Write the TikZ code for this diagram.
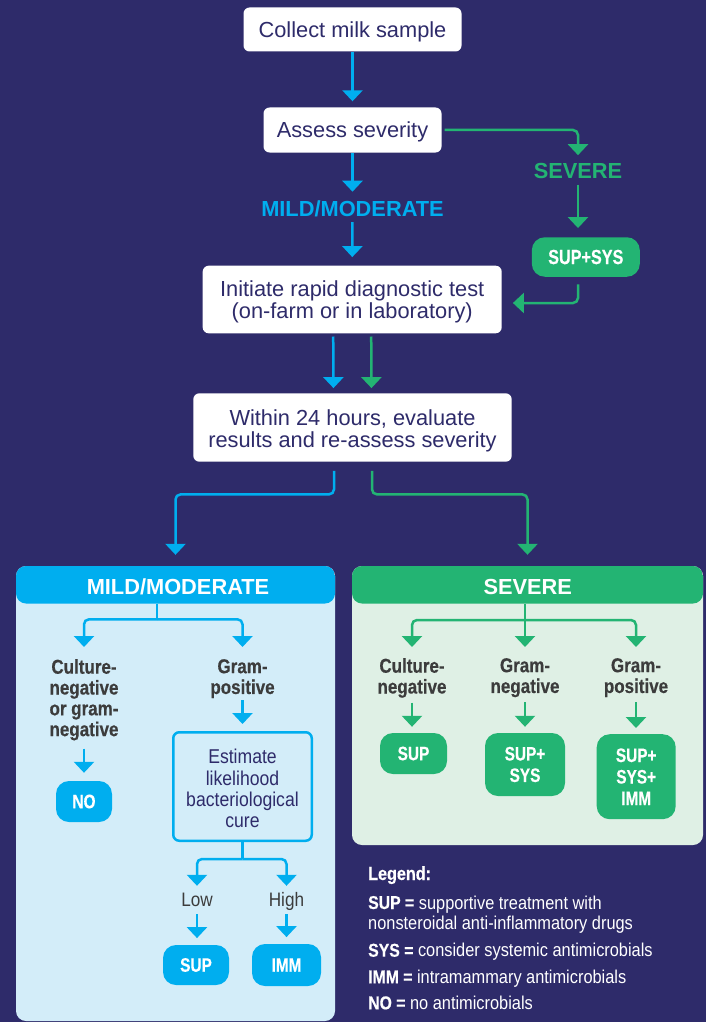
\documentclass[tikz,border=0pt]{standalone}
\usepackage{fontspec}
\setmainfont{Liberation Sans}
\newfontfamily\condr[FakeStretch=0.88]{Liberation Sans}
\newfontfamily\condl[FakeStretch=0.85,FakeBold=0.4]{Liberation Sans}
\newfontfamily\condb[FakeStretch=0.79,FakeBold=0.4]{Liberation Sans}
\usetikzlibrary{arrows.meta}
\definecolor{bgc}{RGB}{46,43,106}
\definecolor{cblue}{RGB}{0,174,239}
\definecolor{cgreen}{RGB}{35,180,115}
\definecolor{lblue}{RGB}{211,237,249}
\definecolor{lgreen}{RGB}{223,240,229}
\definecolor{navy}{RGB}{46,43,106}
\definecolor{dgray}{RGB}{60,60,60}
\tikzset{
 wbox/.style={fill=white, rounded corners=6pt, text=navy, align=center, inner sep=0pt, text depth=0pt, font=\fontsize{21.8}{22}\selectfont},
 pill/.style={rounded corners=13pt, text=white, align=center, inner sep=0pt, font=\condb\bfseries\fontsize{19.5}{21.5}\selectfont},
 pillb/.style={pill, fill=cblue},
 pillg/.style={pill, fill=cgreen},
 bline/.style={draw=cblue, line width=2.5pt},
 gline/.style={draw=cgreen, line width=2.5pt},
 barrow/.style={bline, -{Triangle[width=20pt,length=11pt]}},
 garrow/.style={gline, -{Triangle[width=20pt,length=11pt]}},
 biglbl/.style={inner sep=0pt, anchor=base, font=\bfseries\fontsize{21.8}{22}\selectfont},
 lbl/.style={inner sep=0pt, anchor=north, align=center, text=dgray, font=\condl\bfseries\fontsize{20}{20.8}\selectfont},
 rlbl/.style={inner sep=0pt, anchor=base, text=dgray, text height=14pt, text depth=4pt, font=\condr\fontsize{19.5}{21}\selectfont},
 leg/.style={inner sep=0pt, anchor=base west, text=white, font=\condr\fontsize{18.6}{20}\selectfont},
 legb/.style={font=\condl\bfseries\fontsize{19}{20}\selectfont},
}
\begin{document}
\begin{tikzpicture}[x=1pt,y=-1pt]
\fill[bgc] (0,0) rectangle (706,1022);
\useasboundingbox (0,0) rectangle (706,1022);

% top flow
\node[wbox, minimum width=218pt, minimum height=44pt] (collect) at (352.5,29.5) {Collect milk sample};
\node[wbox, minimum width=178pt, minimum height=45pt] (assess) at (352.5,130) {Assess severity};
\node[biglbl, text=cblue] (mildlbl) at (352.5,216) {MILD/MODERATE};
\node[biglbl, text=cgreen] (sevlbl) at (578,178.3) {SEVERE};
\node[pillg, minimum width=108pt, minimum height=39.5pt, font=\condb\bfseries\fontsize{20.5}{22}\selectfont] (supsys) at (585.8,257) {SUP+SYS};
\node[wbox, minimum width=299pt, minimum height=67.6pt] (initiate) at (352.2,299.5) {Initiate rapid diagnostic test\\(on-farm or in laboratory)};
\node[wbox, minimum width=318.4pt, minimum height=68.4pt, text height=40pt] (within) at (352.5,427.5) {Within 24 hours, evaluate\\results and re-assess severity};

\draw[barrow, shorten >=6pt] (collect.south) -- (assess.north);
\draw[barrow, shorten >=8.3pt] (assess.south) -- (mildlbl.north);
\draw[barrow, shorten <=5.4pt, shorten >=8.4pt] (mildlbl.south) -- (initiate.north);
\draw[garrow, rounded corners=5pt, shorten <=3pt, shorten >=7.7pt] (assess.east) -| (sevlbl.north);
\draw[garrow, shorten <=6pt, shorten >=9pt] (sevlbl.south) -- (sevlbl.south |- supsys.north);
\draw[garrow, rounded corners=5pt, shorten <=7.3pt, shorten >=11pt] (sevlbl.south |- supsys.south) |- ([yshift=-3.5pt]initiate.east);
\draw[barrow, shorten <=3pt, shorten >=5pt] ([xshift=-19pt]initiate.south) -- ([xshift=-19pt]within.north);
\draw[garrow, shorten <=3pt, shorten >=5pt] ([xshift=19pt]initiate.south) -- ([xshift=19pt]within.north);

% panels
\node[fill=lblue, rounded corners=10pt, minimum width=319pt, minimum height=455pt, inner sep=0pt,
  path picture={\fill[cblue] (path picture bounding box.north west) rectangle ([yshift=-37.5pt]path picture bounding box.north east);}] (mildpanel) at (175.5,793.5) {};
\node[fill=lgreen, rounded corners=10pt, minimum width=351pt, minimum height=279pt, inner sep=0pt,
  path picture={\fill[cgreen] (path picture bounding box.north west) rectangle ([yshift=-37.5pt]path picture bounding box.north east);}] (sevpanel) at (527.5,705.5) {};
\node[biglbl, text=white] (mildhdr) at (178,594.3) {MILD/MODERATE};
\node[biglbl, text=white] (sevhdr) at (527.8,594.3) {SEVERE};

\draw[barrow, rounded corners=5pt, shorten <=9pt, shorten >=11pt] ([xshift=-18.5pt]within.south) -- ++(0,32.5) -| (mildpanel.north);
\draw[garrow, rounded corners=5pt, shorten <=9pt, shorten >=11pt] ([xshift=19.5pt]within.south) -- ++(0,32.5) -| (sevpanel.north);

% left panel
\coordinate (lh) at (157,603.5);
\coordinate (ljoin) at (157,619.3);
\node[lbl] (lcneg) at (84,659) {Culture-\\negative\\or gram-\\negative};
\node[lbl] (lgpos) at (242.5,659) {Gram-\\positive};
\draw[bline] (lh) -- (ljoin);
\draw[barrow, rounded corners=5pt, shorten >=12pt] (ljoin) -| (lcneg.north);
\draw[barrow, rounded corners=5pt, shorten >=12pt] (ljoin) -| (lgpos.north);
\node[pillb, minimum width=56pt, minimum height=41pt] (no) at (84,801.5) {NO};
\draw[barrow, shorten <=8pt, shorten >=8pt] (lcneg.south) -- (no.north);
\node[draw=cblue, line width=2.5pt, rounded corners=6pt, minimum width=138.5pt, minimum height=108.5pt, inner sep=0pt, align=center, text=navy, text height=82pt, text depth=0pt, font=\condr\fontsize{20}{21.2}\selectfont] (est) at (242.5,786.5) {Estimate\\likelihood\\bacteriological\\cure};
\draw[barrow, shorten <=2pt, shorten >=7pt] (lgpos.south) -- (est.north);
\coordinate (ejoin) at (242.5,859);
\node[rlbl] (low) at (197,906.7) {Low};
\node[rlbl] (high) at (286.5,906.7) {High};
\draw[bline] (est.south) -- (ejoin);
\draw[barrow, rounded corners=5pt, shorten >=6.7pt] (ejoin) -| (low.north);
\draw[barrow, rounded corners=5pt, shorten >=6.7pt] (ejoin) -| (high.north);
\node[pillb, minimum width=66pt, minimum height=40pt] (lsup) at (196,965) {SUP};
\node[pillb, minimum width=69pt, minimum height=42pt] (limm) at (286.5,965) {IMM};
\draw[barrow, shorten <=3.3pt, shorten >=6.7pt] (low.south) -- (low.south |- lsup.north);
\draw[barrow, shorten <=3.3pt, shorten >=6.7pt] (high.south) -- (high.south |- limm.north);

% right panel
\coordinate (rh) at (525,603.5);
\coordinate (rjoin) at (525,620);
\node[lbl] (rcneg) at (412,658) {Culture-\\negative};
\node[lbl] (rgneg) at (525,658) {Gram-\\negative};
\node[lbl] (rgpos) at (636,658) {Gram-\\positive};
\draw[garrow, shorten >=11pt] (rh) -- (rgneg.north);
\draw[garrow, rounded corners=5pt, shorten >=11pt] (rjoin) -| (rcneg.north);
\draw[garrow, rounded corners=5pt, shorten >=11pt] (rjoin) -| (rgpos.north);
\node[pillg, minimum width=67pt, minimum height=41pt] (rsup) at (413.5,753.5) {SUP};
\node[pillg, minimum width=80pt, minimum height=63pt] (rsupsys) at (525,764.5) {SUP+\\SYS};
\node[pillg, minimum width=79pt, minimum height=85pt] (rsupsysimm) at (636.2,776.7) {SUP+\\SYS+\\IMM};
\draw[garrow, shorten <=4.7pt, shorten >=6pt] (rcneg.south) -- (rcneg.south |- rsup.north);
\draw[garrow, shorten <=4.7pt, shorten >=6pt] (rgneg.south) -- (rgneg.south |- rsupsys.north);
\draw[garrow, shorten <=4.7pt, shorten >=6pt] (rgpos.south) -- (rgpos.south |- rsupsysimm.north);

% legend
\node[leg, legb] (legt) at (368,880) {Legend:};
\node[leg] (leg1) at (368,909) {{\condl\bfseries SUP =} supportive treatment with};
\node[leg] (leg1b) at (368,929.3) {nonsteroidal anti-inflammatory drugs};
\node[leg] (leg2) at (368,956.7) {{\condl\bfseries SYS =} consider systemic antimicrobials};
\node[leg] (leg3) at (368,983.3) {{\condl\bfseries IMM =} intramammary antimicrobials};
\node[leg] (leg4) at (368,1009.3) {{\condl\bfseries NO =} no antimicrobials};
\end{tikzpicture}
\end{document}
